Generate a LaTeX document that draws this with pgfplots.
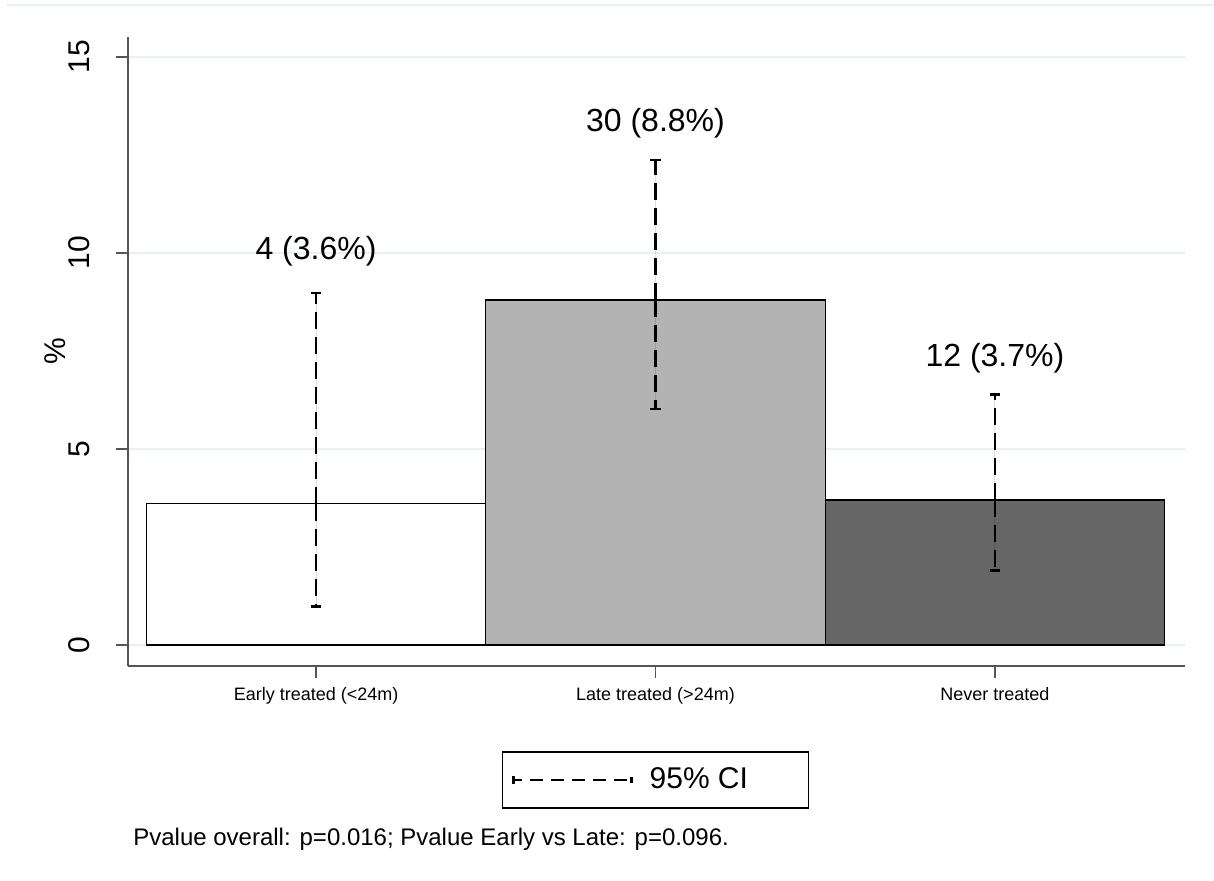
\documentclass[border=0pt]{standalone}
\usepackage{pgfplots}
\pgfplotsset{compat=1.18}
\usepackage{fontspec}
\setmainfont{Liberation Sans}
\definecolor{gridc}{RGB}{232,240,242}
\definecolor{axc}{RGB}{85,85,85}
\definecolor{barmid}{RGB}{179,179,179}
\definecolor{bardark}{RGB}{102,102,102}
\begin{document}
\begin{tikzpicture}[x=1pt,y=1pt]
\path[use as bounding box] (0,0) rectangle (607,440.5);
\draw[gridc, line width=1pt] (3.5,438) -- (607,438);
\begin{axis}[
 at={(64pt,107.5pt)}, anchor=south west,
 scale only axis, width=528.5pt, height=314.5pt,
 xmin=0.446, xmax=3.56, ymin=-0.536, ymax=15.51,
 axis x line*=bottom, axis y line*=left,
 axis line style={axc, line width=0.6pt, -},
 xtick={1,2,3},
 xticklabels={Early treated (<24m), Late treated (>24m), Never treated},
 ytick={0,5,10,15},
 tick align=outside, major tick length=6pt,
 tick style={axc, line width=0.6pt},
 ymajorgrids, grid style={gridc, line width=1.3pt},
 xticklabel style={font=\fontsize{9}{11}\selectfont, anchor=north, inner sep=0pt},
 yticklabel style={font=\fontsize{15}{18}\selectfont, rotate=90, anchor=south, inner sep=0pt},
 xticklabel shift=4.5pt, yticklabel shift=13pt,
 /pgf/number format/assume math mode=true,
 ylabel={\%},
 ylabel style={font=\fontsize{15}{18}\selectfont, at={(axis description cs:-0.069,0.5)}, anchor=center},
 clip=false,
 legend style={at={(axis description cs:0.499,-0.1812)}, anchor=center,
   draw=black, line width=0.6pt, inner sep=0pt, row sep=0pt,
   font=\fontsize{15}{18}\selectfont, nodes={inner sep=0pt, draw=none},
   /tikz/every even column/.append style={column sep=0pt}},
]
\addplot[ybar, bar width=1, bar shift=0pt, fill=white, draw=black, line width=0.6pt,
  forget plot,
  error bars/.cd, y dir=both, y explicit,
  error bar style={black, line width=1.4pt, dash pattern=on 8.5pt off 4pt},
  error mark options={black, solid, rotate=90, line width=1.4pt, mark size=2.6pt}]
  coordinates {(1,3.6) += (0,5.38) -= (0,2.61)};
\addplot[ybar, bar width=1, bar shift=0pt, fill=barmid, draw=black, line width=0.6pt,
  forget plot,
  error bars/.cd, y dir=both, y explicit,
  error bar style={black, line width=1.4pt, dash pattern=on 8.5pt off 4pt},
  error mark options={black, solid, rotate=90, line width=1.4pt, mark size=2.6pt}]
  coordinates {(2,8.8) += (0,3.57) -= (0,2.78)};
\addplot[ybar, bar width=1, bar shift=0pt, fill=bardark, draw=black, line width=0.6pt,
  forget plot,
  error bars/.cd, y dir=both, y explicit,
  error bar style={black, line width=1.4pt, dash pattern=on 8.5pt off 4pt},
  error mark options={black, solid, rotate=90, line width=1.4pt, mark size=2.6pt}]
  coordinates {(3,3.7) += (0,2.68) -= (0,1.8)};
\addlegendimage{legend image code/.code={
  \path[draw=none, fill=none] (-5.5pt,-14pt) rectangle (59pt,14pt);
  \draw[black, line width=1.4pt, dash pattern=on 6.5pt off 4pt, dash phase=2pt] (0pt,0pt) -- (59pt,0pt);
  \draw[black, line width=1.4pt] (0pt,-2pt) -- (0pt,2pt);
  \draw[black, line width=1.4pt] (59pt,-1.6pt) -- (59pt,1.6pt);
}}
\addlegendentry{\makebox[88pt][l]{\hspace{8.5pt}95\% CI}}
\node[anchor=base, font=\fontsize{16}{19}\selectfont] at (axis cs:1,9.83) {4 (3.6\%)};
\node[anchor=base, font=\fontsize{16}{19}\selectfont] at (axis cs:2,13.1) {30 (8.8\%)};
\node[anchor=base, font=\fontsize{16}{19}\selectfont] at (axis cs:3,7.1) {12 (3.7\%)};
\node[anchor=base west, inner sep=0pt, font=\fontsize{12}{14}\selectfont] at (axis description cs:0.0047,-0.2846) {Pvalue overall: p=0.016; Pvalue Early vs Late: p=0.096.};
\end{axis}
\end{tikzpicture}
\end{document}
